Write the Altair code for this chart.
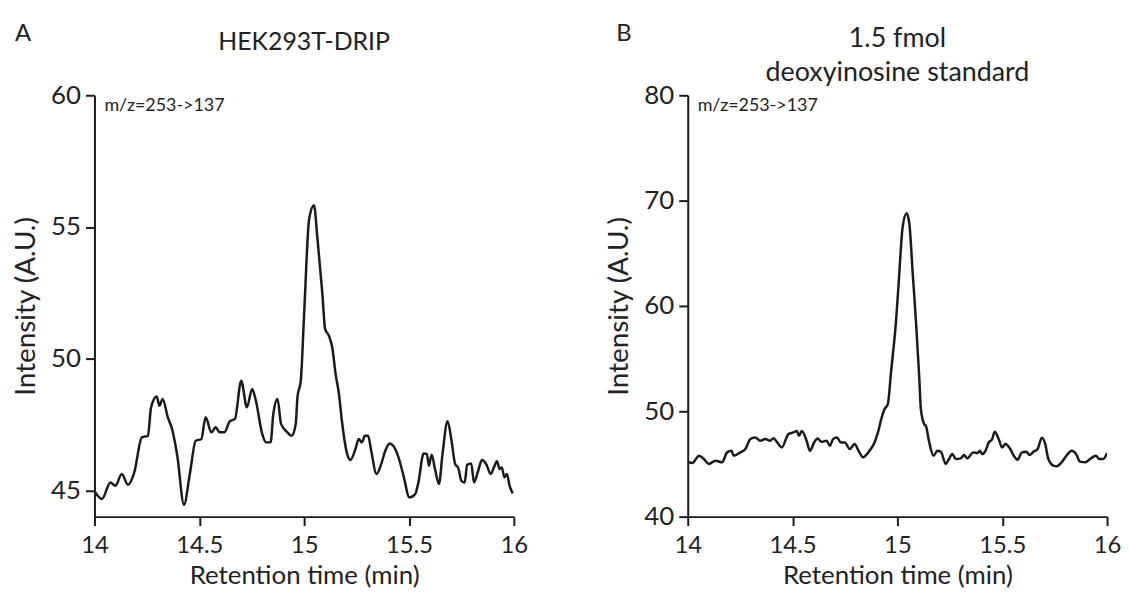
import altair as alt
import pandas as pd

# Panel A: HEK293T-DRIP
a_time = [14.0, 14.036, 14.076, 14.10, 14.13, 14.16, 14.19, 14.226, 14.255, 14.27, 14.297, 14.31,
          14.325, 14.35, 14.37, 14.395, 14.427, 14.455, 14.483, 14.51, 14.53, 14.558, 14.578, 14.597,
          14.62, 14.645, 14.67, 14.70, 14.727, 14.752, 14.77, 14.80, 14.818, 14.84, 14.853, 14.873,
          14.89, 14.92, 14.94, 14.96, 14.968, 14.984, 15.0, 15.024, 15.047, 15.063, 15.087, 15.10,
          15.118, 15.134, 15.15, 15.166, 15.18, 15.205, 15.22, 15.245, 15.26, 15.275, 15.29, 15.305,
          15.32, 15.345, 15.37, 15.387, 15.408, 15.425, 15.45, 15.474, 15.502, 15.53, 15.545, 15.57,
          15.585, 15.595, 15.608, 15.624, 15.643, 15.66, 15.684, 15.703, 15.72, 15.735, 15.75, 15.766,
          15.777, 15.797, 15.81, 15.83, 15.848, 15.868, 15.89, 15.905, 15.92, 15.932, 15.943, 15.955,
          15.967, 15.98, 15.995]
a_int = [44.98, 44.67, 45.30, 45.17, 45.62, 45.21, 45.68, 47.01, 47.07, 48.15, 48.56, 48.21,
         48.47, 47.77, 47.33, 46.31, 44.45, 45.63, 46.88, 46.95, 47.77, 47.20, 47.39, 47.20,
         47.20, 47.62, 47.71, 49.16, 48.15, 48.85, 48.40, 47.14, 46.82, 46.82, 47.90, 48.47,
         47.52, 47.20, 47.07, 47.52, 48.53, 49.16, 51.70, 55.31, 55.82, 54.61, 52.46, 51.13,
         50.87, 50.43, 49.42, 48.66, 47.64, 46.38, 46.15, 46.57, 46.95, 46.82, 47.07, 47.07,
         46.50, 45.62, 46.06, 46.50, 46.78, 46.69, 46.25, 45.55, 44.73, 44.86, 45.30, 46.40,
         46.38, 45.93, 46.35, 45.81, 45.24, 46.38, 47.62, 46.88, 46.00, 45.85, 45.36, 45.30,
         45.97, 46.02, 45.30, 45.74, 46.15, 46.00, 45.62, 45.87, 46.10, 45.81, 45.87, 45.49,
         45.62, 45.17, 44.88]

# Panel B: 1.5 fmol deoxyinosine standard
b_time = [14.006, 14.022, 14.054, 14.077, 14.101, 14.133, 14.164, 14.188, 14.209, 14.219, 14.251,
          14.275, 14.299, 14.322, 14.346, 14.370, 14.393, 14.409, 14.425, 14.449, 14.480, 14.504,
          14.520, 14.531, 14.544, 14.567, 14.583, 14.603, 14.619, 14.638, 14.662, 14.678, 14.693,
          14.712, 14.730, 14.749, 14.773, 14.796, 14.815, 14.836, 14.867, 14.891, 14.907, 14.923,
          14.938, 14.954, 14.970, 14.994, 15.009, 15.025, 15.044, 15.057, 15.073, 15.089, 15.104,
          15.112, 15.128, 15.136, 15.152, 15.172, 15.191, 15.207, 15.231, 15.246, 15.262, 15.278,
          15.302, 15.318, 15.333, 15.362, 15.381, 15.393, 15.404, 15.420, 15.436, 15.452, 15.464,
          15.483, 15.499, 15.515, 15.539, 15.555, 15.573, 15.594, 15.615, 15.630, 15.649, 15.668,
          15.689, 15.705, 15.720, 15.744, 15.760, 15.783, 15.812, 15.831, 15.852, 15.871, 15.896,
          15.919, 15.947, 15.962, 15.981, 16.0]
b_int = [45.16, 45.09, 45.78, 45.47, 45.00, 45.31, 45.16, 46.10, 46.25, 45.78, 46.10,
         46.42, 47.36, 47.52, 47.20, 47.36, 47.20, 47.45, 47.10, 46.57, 47.83, 47.99,
         48.14, 47.67, 48.14, 47.20, 46.25, 47.04, 47.42, 47.10, 47.20, 46.73, 47.36,
         47.52, 47.04, 47.04, 46.42, 46.89, 46.25, 45.63, 46.25, 47.04, 47.99, 49.25,
         50.19, 50.66, 53.80, 58.70, 63.10, 67.50, 68.80, 67.80, 63.10, 58.40, 53.30,
         50.19, 48.77, 48.60, 47.04, 45.78, 46.25, 46.16, 45.00, 45.47, 45.94, 45.47,
         45.53, 45.85, 45.53, 46.10, 46.04, 46.25, 45.94, 46.25, 47.04, 47.36, 48.05,
         47.36, 46.57, 46.89, 46.40, 45.78, 45.40, 46.10, 46.16, 45.85, 46.16, 46.40,
         47.50, 46.89, 45.47, 44.84, 44.78, 45.16, 45.94, 46.25, 45.94, 45.22, 45.16,
         45.47, 45.78, 45.47, 45.47, 46.04]

x_ticks = [14, 14.5, 15, 15.5, 16]
a_yticks = [45, 50, 55, 60]
b_yticks = [40, 50, 60, 70, 80]
transition = "m/z=253->137"

FONT = "Lato"
TXT = "#222222"
W, H = 422, 424


def text_layer(s, x, y, size, align="left"):
    return alt.Chart(pd.DataFrame({"s": [s]})).mark_text(
        align=align, baseline="middle", font=FONT, fontSize=size, color=TXT
    ).encode(text="s:N", x=alt.value(x), y=alt.value(y))


def panel(times, vals, ydom, yticks, titles, letter, letter_x):
    df = pd.DataFrame({"t": times, "v": vals})
    line = alt.Chart(df).mark_line(color="#1a1a1a", strokeWidth=2.5, clip=True,
                                   interpolate="monotone").encode(
        x=alt.X("t:Q", scale=alt.Scale(domain=[14, 16], nice=False, zero=False),
                axis=alt.Axis(values=x_ticks, labelExpr="'' + datum.value",
                              title="Retention time (min)", labelFontSize=24,
                              labelPadding=8, titlePadding=5, titleFontSize=26)),
        y=alt.Y("v:Q", scale=alt.Scale(domain=ydom, nice=False, zero=False),
                axis=alt.Axis(values=yticks, title="Intensity (A.U.)", labelFontSize=26,
                              labelPadding=5, titlePadding=10, titleFontSize=28)),
    )
    layers = [line, text_layer(transition, 10, 11, 18), text_layer(letter, letter_x, -62, 24)]
    for txt, yy, fs in titles:
        layers.append(text_layer(txt, W / 2, yy, fs, align="center"))
    return alt.layer(*layers).properties(width=W, height=H)


left = panel(a_time, a_int, [44, 60], a_yticks, [("HEK293T-DRIP", -54, 25)], "A", -80)
right = panel(b_time, b_int, [40, 80], b_yticks,
              [("1.5 fmol", -57, 27), ("deoxyinosine standard", -22, 27)], "B", -72)

chart = alt.hconcat(left, right, spacing=78).configure_view(stroke=None).configure_axis(
    grid=False, domainColor="#1a1a1a", domainWidth=2, tickColor="#1a1a1a", tickWidth=2,
    tickSize=9, labelFont=FONT, titleFont=FONT,
    labelColor=TXT, titleColor=TXT, titleFontWeight="normal",
    labelFlush=False, labelOverlap=False
).properties(
    padding={"left": 4, "top": 12, "right": 0, "bottom": 0}, background="white"
)

chart.save("out.html", embed_options={"renderer": "svg", "actions": False})
